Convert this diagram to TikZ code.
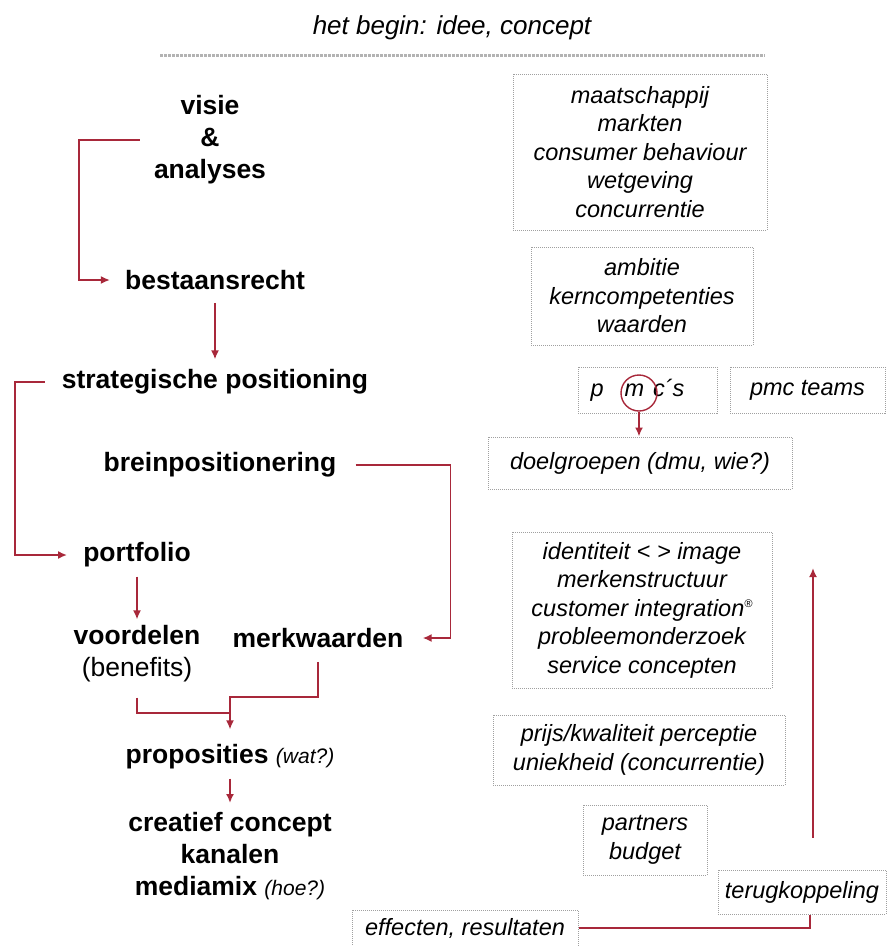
\documentclass[tikz,border=0pt]{standalone}
\usepackage{fontspec}
\setmainfont{Liberation Sans}
\usetikzlibrary{arrows.meta}
\definecolor{linkred}{HTML}{A8283A}
\definecolor{boxgray}{HTML}{A0A0A0}
\newcommand\boxfont{\fontsize{23.5}{28.5}\selectfont\itshape}
\newcommand\flowfont{\fontsize{26.5}{32}\selectfont\bfseries}
\newcommand\askfont{\fontsize{21}{26}\selectfont\mdseries\itshape}

\begin{document}
\begin{tikzpicture}[x=1pt, y=-1pt,
    flow/.style={font=\flowfont, align=center, inner sep=2pt},
    infobox/.style={draw=boxgray, densely dotted, line width=1pt, font=\boxfont, align=center, inner sep=0pt},
    link/.style={draw=linkred, line width=1.8pt},
    arrow/.style={link, -{Latex[length=9pt,width=8pt]}}]
  \useasboundingbox (0,0) rectangle (890,946);
  % Title
  \node (title) at (452,28) {\fontsize{26}{30}\selectfont\itshape het begin: idee, concept};
  \draw[boxgray!80, line width=3pt, dash pattern=on 2.5pt off 1.5pt] (160,55) -- (765,55);
  % Nodes left
  \node (vis) [flow] at (210,140) {visie\\\&\\analyses};
  \node (best) [flow] at (215,280) {bestaansrecht};
  \node (strat) [flow] at (215,382) {strategische positioning};
  \node (brein) [flow] at (220,465) {breinpositionering};
  \node (port) [flow] at (137,555) {portfolio};
  \node (voord) [flow] at (137,654) {voordelen\\{\mdseries(benefits)}};
  \node (merk) [flow] at (318,638) {merkwaarden};
  \node (prop) [flow] at (230,757) {proposities {\askfont(wat?)}};
  \node (crea) [flow] at (230,856) {creatief concept\\kanalen\\mediamix {\askfont(hoe?)}};
  % Nodes right
  \node (markt) [infobox, minimum width=254pt, minimum height=156pt] at (640,152) {maatschappij\\markten\\consumer behaviour\\wetgeving\\concurrentie};
  \node (amb) [infobox, minimum width=222pt, minimum height=98pt] at (642,296) {ambitie\\kerncompetenties\\waarden};
  \node (pmc) [infobox, minimum width=139pt, minimum height=46pt] at (647.5,390) {p\hspace{21pt}m\hspace{9pt}c´s\hspace{20pt}};
  \node (teams) [infobox, minimum width=155pt, minimum height=46pt] at (807.5,390) {pmc teams};
  \node (mring) [circle, draw=linkred, line width=1.4pt, minimum size=36pt, inner sep=0pt] at (639,393) {};
  \node (doel) [infobox, minimum width=304pt, minimum height=52pt] at (640,463) {doelgroepen (dmu, wie?)};
  \node (ident) [infobox, minimum width=260pt, minimum height=156pt] at (642,610) {identiteit < > image\\merkenstructuur\\customer integration\raisebox{9pt}{\fontsize{11}{11}\selectfont ®}\\probleemonderzoek\\service concepten};
  \node (prijs) [infobox, minimum width=292pt, minimum height=70pt] at (639,750) {prijs/kwaliteit perceptie\\uniekheid (concurrentie)};
  \node (partn) [infobox, minimum width=124pt, minimum height=70pt] at (645,840) {partners\\budget};
  \node (terug) [infobox, minimum width=168pt, minimum height=44pt] at (802,892) {terugkoppeling};
  \node (effect) [infobox, minimum width=226pt, minimum height=36pt] at (465,928) {effecten, resultaten};
  \coordinate (join) at (230,697);
  \coordinate (fbtop) at (813,568);
  % Arrows
  \draw[arrow, shorten <=12pt, shorten >=13pt] (vis.west) -- ++(-73,0) |- (best.west);
  \draw[arrow, shorten <=11pt, shorten >=8pt] (best) -- (strat);
  \draw[arrow, shorten <=15pt, shorten >=14pt] (strat.west) -- ++(-45,0) |- (port.west);
  \draw[arrow, shorten <=17pt, shorten >=17pt] (brein.east) -- ++(112,0) |- (merk.east);
  \draw[arrow, shorten <=7pt, shorten >=4pt] (port.south) -- (port.south |- voord.north);
  \draw[link, shorten <=13pt] (voord.south) |- ([yshift=-16pt]join);
  \draw[arrow, shorten <=12pt, shorten >=13pt] (merk.south) |- (join) -- (join |- prop.north);
  \draw[arrow, shorten <=7pt, shorten >=7pt] (prop) -- (crea);
  \draw[arrow] (mring.south) -- (mring.south |- doel.north);
  \draw[arrow] ([xshift=11pt,yshift=32pt]terug.north) -- (fbtop);
  \draw[link] (effect.east) -| ([xshift=8pt]terug.south);
\end{tikzpicture}
\end{document}
